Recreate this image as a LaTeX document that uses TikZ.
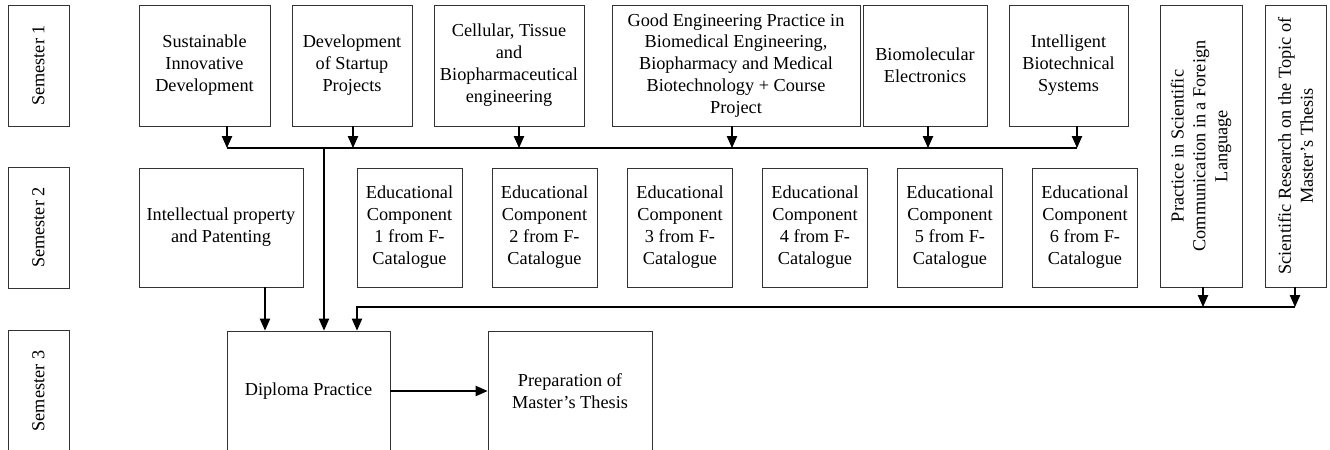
\documentclass[tikz,border=0pt]{standalone}
\usepackage{fontspec}
\setmainfont{Liberation Serif}
\usetikzlibrary{arrows.meta}
\begin{document}
\begin{tikzpicture}[
  x=0.25mm, y=-0.25mm,
  every node/.style={font=\fontsize{13}{15.6}\selectfont},
  box/.style={draw=black!80, line width=0.6pt, align=center, inner sep=2pt},
  sem/.style={box, rotate=90, minimum width=30.25mm, minimum height=15.25mm},
  rowone/.style={box, minimum height=30.25mm},
  rowtwo/.style={box, minimum height=29.75mm},
  rowthree/.style={box, minimum height=30mm},
  arr/.style={draw, line width=0.8pt, -{Triangle[width=2.6mm,length=3mm]}},
  bus/.style={draw, line width=0.8pt}
]
\useasboundingbox (0,0) rectangle (1330,450);
\clip (0,0) rectangle (1330,450);

% semester labels
\node[sem] (s1) at (38.5,65.5) {Semester 1};
\node[sem] (s2) at (38.5,227.5) {Semester 2};
\node[sem] (s3) at (38.5,391) {Semester 3};

% semester 1
\node[rowone, minimum width=32.75mm] (sid) at (204.5,65.5) {Sustainable\\Innovative\\Development};
\node[rowone, minimum width=30mm] (dsp) at (352,65.5) {Development\\of Startup\\Projects};
\node[rowone, minimum width=37.5mm] (ctb) at (509,65.5) {Cellular, Tissue\\and\\Biopharmaceutical\\engineering};
\node[rowone, minimum width=62mm] (gep) at (736,65.5) {Good Engineering Practice in\\Biomedical Engineering,\\Biopharmacy and Medical\\Biotechnology + Course\\Project};
\node[rowone, minimum width=31mm] (bme) at (925,65.5) {Biomolecular\\Electronics};
\node[rowone, minimum width=29.75mm] (ibs) at (1068.5,65.5) {Intelligent\\Biotechnical\\Systems};
\node[box, rotate=90, minimum width=70.5mm, minimum height=20.5mm] (psc) at (1201,146) {Practice in Scientific\\Communication in a Foreign\\Language};
\node[box, rotate=90, minimum width=70.5mm, minimum height=15.25mm] (srt) at (1295.5,146) {Scientific Research on the Topic of\\Master’s Thesis};

% semester 2
\node[rowtwo, minimum width=41mm] (ipp) at (221,227.5) {Intellectual property\\and Patenting};
\foreach \i/\cx in {1/409.5, 2/544.5, 3/680, 4/815, 5/950, 6/1085}
  \node[rowtwo, minimum width=26.25mm] (ec\i) at (\cx,227.5) {Educational\\Component\\\i{} from F-\\Catalogue};

% semester 3
\node[rowthree, minimum width=40.75mm] (dip) at (308.5,391) {Diploma Practice};
\node[rowthree, minimum width=41mm] (pmt) at (570,391) {Preparation of\\Master’s Thesis};

% upper bus
\foreach \n/\bx in {sid/227, dsp/353, ctb/519, gep/732, bme/928, ibs/1077} {
  \coordinate (b\n) at (\bx,148);
  \draw[arr] (\n.south -| b\n) -- (b\n);
}
\draw[bus] (bsid) -- (bibs);
\coordinate (bj) at (324,148);
\draw[arr] (bj) -- (dip.north -| bj);
\draw[arr] ([xshift=11mm]ipp.south) -- ([xshift=11mm]ipp.south |- dip.north);

% lower bus
\coordinate (rpsc) at (1203,307);
\coordinate (rsrt) at (1295,307);
\coordinate (rj) at (357,307);
\draw[arr] (psc.west -| rpsc) -- (rpsc);
\draw[arr] (srt.west -| rsrt) -- (rsrt);
\draw[arr] (rsrt) -- (rj) -- (dip.north -| rj);
\draw[arr] (dip.east) -- (pmt.west);
\end{tikzpicture}
\end{document}
